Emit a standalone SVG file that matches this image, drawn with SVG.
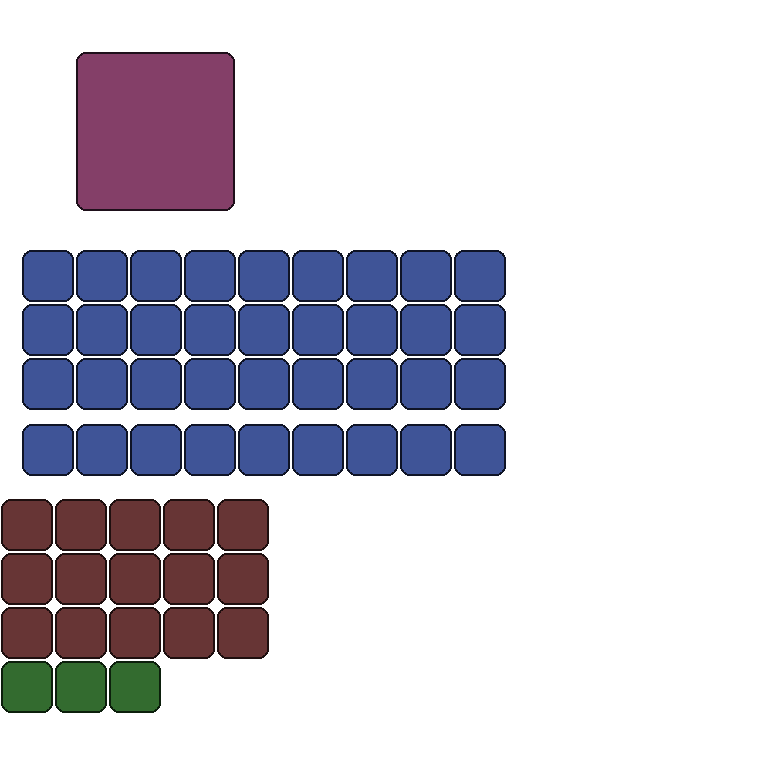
<svg xmlns="http://www.w3.org/2000/svg" width="768" height="768" viewBox="0 0 768 768">
<defs>
<style>
rect{stroke-width:2;shape-rendering:crispEdges}
.big{fill:#843f68;stroke:#1e0f1a}
.b{fill:#3f5497;stroke:#0f1426}
.r{fill:#673535;stroke:#1e0f0f}
.g{fill:#336b2f;stroke:#0c1f0c}
</style>
<rect id="t" width="50" height="50" rx="9"/>
</defs>
<rect width="768" height="768" fill="#ffffff" style="stroke:none"/>
<g id="purple"><rect class="big" x="77" y="53" width="157" height="157" rx="9"/></g>
<g id="blue" class="b">
<use href="#t" x="23" y="251"/><use href="#t" x="77" y="251"/><use href="#t" x="131" y="251"/><use href="#t" x="185" y="251"/><use href="#t" x="239" y="251"/><use href="#t" x="293" y="251"/><use href="#t" x="347" y="251"/><use href="#t" x="401" y="251"/><use href="#t" x="455" y="251"/>
<use href="#t" x="23" y="305"/><use href="#t" x="77" y="305"/><use href="#t" x="131" y="305"/><use href="#t" x="185" y="305"/><use href="#t" x="239" y="305"/><use href="#t" x="293" y="305"/><use href="#t" x="347" y="305"/><use href="#t" x="401" y="305"/><use href="#t" x="455" y="305"/>
<use href="#t" x="23" y="359"/><use href="#t" x="77" y="359"/><use href="#t" x="131" y="359"/><use href="#t" x="185" y="359"/><use href="#t" x="239" y="359"/><use href="#t" x="293" y="359"/><use href="#t" x="347" y="359"/><use href="#t" x="401" y="359"/><use href="#t" x="455" y="359"/>
<use href="#t" x="23" y="425"/><use href="#t" x="77" y="425"/><use href="#t" x="131" y="425"/><use href="#t" x="185" y="425"/><use href="#t" x="239" y="425"/><use href="#t" x="293" y="425"/><use href="#t" x="347" y="425"/><use href="#t" x="401" y="425"/><use href="#t" x="455" y="425"/>
</g>
<g id="brown" class="r">
<use href="#t" x="2" y="500"/><use href="#t" x="56" y="500"/><use href="#t" x="110" y="500"/><use href="#t" x="164" y="500"/><use href="#t" x="218" y="500"/>
<use href="#t" x="2" y="554"/><use href="#t" x="56" y="554"/><use href="#t" x="110" y="554"/><use href="#t" x="164" y="554"/><use href="#t" x="218" y="554"/>
<use href="#t" x="2" y="608"/><use href="#t" x="56" y="608"/><use href="#t" x="110" y="608"/><use href="#t" x="164" y="608"/><use href="#t" x="218" y="608"/>
</g>
<g id="green" class="g">
<use href="#t" x="2" y="662"/><use href="#t" x="56" y="662"/><use href="#t" x="110" y="662"/>
</g>
</svg>
